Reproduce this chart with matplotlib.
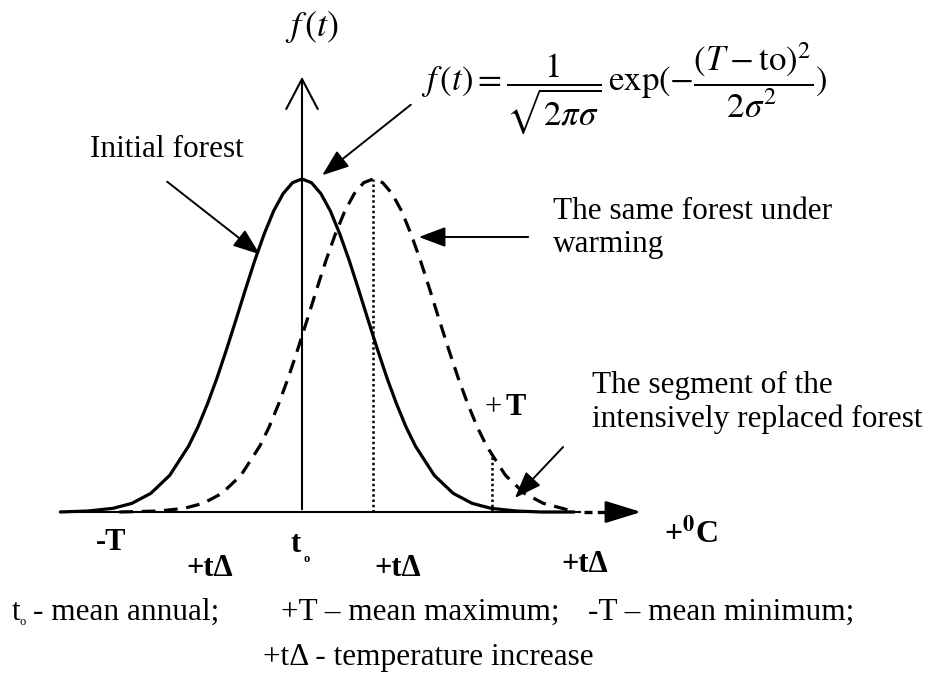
"""
Forest temperature-distribution diagram (initial vs. warming)
"""
import matplotlib
matplotlib.use('Agg')
import matplotlib.pyplot as plt

plt.rcParams['font.family'] = ['Liberation Serif', 'DejaVu Serif']
plt.rcParams['mathtext.fontset'] = 'stix'

# x: temperature relative to t_o (in sigma units), y: relative frequency (peak = 1)
initial_x = [-3.85, -3.4, -3.0, -2.7, -2.4, -2.1, -1.8, -1.65, -1.5, -1.35, -1.2, -1.05, -0.9,
             -0.75, -0.6, -0.45, -0.3, -0.15, 0.0, 0.15, 0.3, 0.45, 0.6, 0.75, 0.9, 1.05,
             1.2, 1.35, 1.5, 1.65, 1.8, 2.1, 2.4, 2.7, 3.0, 3.4, 3.8, 4.33]
initial_y = [0.0, 0.003, 0.011, 0.026, 0.056, 0.110, 0.198, 0.256, 0.325, 0.402, 0.487, 0.576,
             0.667, 0.755, 0.835, 0.904, 0.956, 0.989, 1.0, 0.989, 0.956, 0.904, 0.835, 0.755,
             0.667, 0.576, 0.487, 0.402, 0.325, 0.256, 0.198, 0.110, 0.056, 0.026, 0.011,
             0.003, 0.0, 0.0]

warming_x = [-2.90, -2.27, -1.87, -1.57, -1.27, -0.97, -0.67, -0.52, -0.37, -0.22, -0.07, 0.08,
             0.23, 0.38, 0.53, 0.68, 0.83, 0.98, 1.13, 1.28, 1.43, 1.58, 1.73, 1.88, 2.03,
             2.18, 2.33, 2.48, 2.63, 2.78, 2.93, 3.23, 3.53, 3.83, 4.13, 4.33]
warming_y = [0.0, 0.003, 0.011, 0.026, 0.056, 0.110, 0.198, 0.256, 0.325, 0.402, 0.487, 0.576,
             0.667, 0.755, 0.835, 0.904, 0.956, 0.989, 1.0, 0.989, 0.956, 0.904, 0.835, 0.755,
             0.667, 0.576, 0.487, 0.402, 0.325, 0.256, 0.198, 0.110, 0.056, 0.026, 0.011, 0.0]

# dotted markers: peak of the warmed forest and the +T boundary
marker_x = [1.13, 3.02]
marker_top = [1.0, 0.165]

# labels along the temperature axis (pixel positions of the original layout)
tick_labels = ['-T', '+t\u0394', 't', '+t\u0394', '+t\u0394']
tick_px = [111, 210, 296, 398, 585]
tick_py = [543, 568, 545, 568, 565]

# pixel -> data helpers (axis origin at pixel 302, 512; sigma = 63 px)
X0, Y0, SX, SY = 302.0, 512.0, 63.0, 333.0


def px(x, y):
    return ((x - X0) / SX, (Y0 - y) / SY)


fig = plt.figure(figsize=(9.31, 6.82), dpi=100)
ax = fig.add_axes([0, 0, 1, 1])
ax.set_xlim(px(0, 0)[0], px(931, 0)[0])
ax.set_ylim(px(0, 682)[1], px(0, 0)[1])
ax.axis('off')

# axes
ax.plot([px(60, 0)[0], px(580, 0)[0]], [0, 0], color='k', lw=1.5)
ax.plot([px(584, 0)[0], px(620, 0)[0]], [0, 0], color='k', lw=2.4, ls=(0, (2.4, 1.6)))
ax.annotate('', xy=px(644, 512), xytext=px(614, 512),
            arrowprops=dict(arrowstyle='-|>, head_length=0.55, head_width=0.17',
                            color='k', lw=2, mutation_scale=40))
ax.annotate('', xy=px(302, 74), xytext=(0, 0),
            arrowprops=dict(arrowstyle='->, head_length=0.8, head_width=0.42',
                            color='k', lw=1.5, mutation_scale=27))

# curves
ax.plot(initial_x, initial_y, color='k', lw=2.3, solid_capstyle='butt')
ax.plot(warming_x, warming_y, color='k', lw=2.3, ls=(0, (4.3, 2.7)))
for mx, mt in zip(marker_x, marker_top):
    ax.plot([mx, mx], [0, mt], color='k', lw=1.8, ls=(0, (1, 1.1)))

# labels on the temperature axis
for lab, x, y in zip(tick_labels, tick_px, tick_py):
    ax.text(*px(x, y), lab, ha='center', va='center', fontsize=22, fontweight='bold')
ax.text(*px(304, 559), 'o', ha='left', va='center', fontsize=9, fontweight='bold')
ax.text(*px(691, 533), '+$^{\\mathbf{0}}$C', ha='center', va='center',
        fontsize=23, fontweight='bold')
ax.text(*px(485, 408), '+', ha='left', va='center', fontsize=22)
ax.text(*px(506, 408), 'T', ha='left', va='center', fontsize=22, fontweight='bold')

# y label and formula
ax.text(*px(312, 27), '$f\\,(t)$', ha='center', va='center', fontsize=26)
ax.text(*px(421, 88),
        r'$f\,(t) = \dfrac{1}{\sqrt{2\pi\sigma}}\,\mathrm{exp}(-\dfrac{(T-\mathrm{to})^2}{2\sigma^2})$',
        ha='left', va='center', fontsize=25)

# annotations
arrow = dict(arrowstyle='-|>, head_length=0.75, head_width=0.28', color='k', lw=1.4,
             mutation_scale=22)
ax.text(*px(90, 150), 'Initial forest', ha='left', va='center', fontsize=22.5)
ax.annotate('', xy=px(262, 256), xytext=px(165, 180), arrowprops=arrow)
ax.annotate('', xy=px(320, 177), xytext=px(413, 103), arrowprops=arrow)
ax.text(*px(553, 228), 'The same forest under\nwarming', ha='left', va='center',
        fontsize=22.5, linespacing=1.2)
ax.annotate('', xy=px(416, 237), xytext=px(531, 237), arrowprops=arrow)
ax.text(*px(592, 402), 'The segment of the\nintensively replaced forest', ha='left',
        va='center', fontsize=22.5, linespacing=1.2)
ax.annotate('', xy=px(513, 500), xytext=px(565, 445), arrowprops=arrow)

# legend text under the chart
ax.text(*px(12, 612), 't', ha='left', va='center', fontsize=22.5)
ax.text(*px(19, 622), 'o', ha='left', va='center', fontsize=9)
ax.text(*px(33, 612), '- mean annual;', ha='left', va='center', fontsize=22.5)
ax.text(*px(281, 612), '+T \u2013 mean maximum;', ha='left', va='center', fontsize=22.5)
ax.text(*px(588, 612), '-T \u2013 mean minimum;', ha='left', va='center', fontsize=22.5)
ax.text(*px(263, 658), '+t\u0394 - temperature increase', ha='left', va='center',
        fontsize=22.5)

plt.savefig('out.png', dpi=100)
plt.close()
